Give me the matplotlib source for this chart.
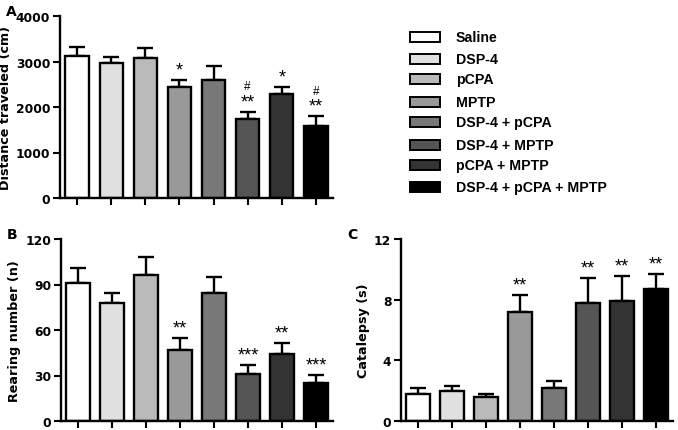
import numpy as np
import matplotlib.pyplot as plt
from matplotlib.patches import Rectangle

plt.rcParams['font.family'] = ['DejaVu Sans']
plt.rcParams['font.weight'] = 'bold'

groups = ['Saline', 'DSP-4', 'pCPA', 'MPTP', 'DSP-4 + pCPA',
          'DSP-4 + MPTP', 'pCPA + MPTP', 'DSP-4 + pCPA + MPTP']
colors = ['#ffffff', '#e0e0e0', '#bababa', '#999999', '#787878',
          '#555555', '#333333', '#000000']

distance = [3110, 2975, 3070, 2430, 2600, 1735, 2285, 1590]
distance_err = [210, 130, 220, 165, 295, 160, 160, 205]
distance_marks = ['', '', '', '*', '', '**', '*', '**']
distance_hash = ['', '', '', '', '', '#', '', '#']

rearing = [90.7, 77.5, 96.3, 46.5, 84.4, 31.0, 44.5, 24.9]
rearing_err = [10.3, 6.9, 11.7, 8.5, 10.8, 6.2, 7.0, 5.3]
rearing_marks = ['', '', '', '**', '', '***', '**', '***']

catalepsy = [1.76, 1.98, 1.56, 7.16, 2.18, 7.75, 7.89, 8.70]
catalepsy_err = [0.44, 0.31, 0.24, 1.14, 0.46, 1.68, 1.65, 0.99]
catalepsy_marks = ['', '', '', '**', '', '**', '**', '**']

W, H = 678, 431
fig = plt.figure(figsize=(W / 100, H / 100), dpi=100)
arial = ['Liberation Sans', 'DejaVu Sans']


def px_axes(left, top, right, bottom):
    return fig.add_axes([left / W, 1 - bottom / H, (right - left) / W, (bottom - top) / H])


def bar_panel(ax, vals, errs, marks, ymax, step, ylabel, letter, hashes=None):
    x = np.arange(len(vals))
    ax.bar(x, vals, width=0.68, color=colors, edgecolor='black', linewidth=1.7, zorder=2)
    ax.errorbar(x, vals, yerr=[np.zeros(len(vals)), errs], fmt='none', ecolor='black',
                elinewidth=1.7, capsize=6, capthick=1.7, zorder=1)
    for i, (xi, v, e, m) in enumerate(zip(x, vals, errs, marks)):
        if m:
            ax.annotate(m, (xi, v + e), xytext=(0, 1), textcoords='offset points',
                        ha='center', va='bottom', fontsize=13, fontweight='normal',
                        family=arial)
        if hashes and hashes[i]:
            ax.annotate(hashes[i], (xi, v + e), xytext=(0, 14), textcoords='offset points',
                        ha='center', va='bottom', fontsize=8.5, fontweight='normal',
                        family=arial)
    ax.set_xlim(-0.5, len(vals) - 0.5)
    ax.set_ylim(0, ymax)
    ax.set_yticks(np.arange(0, ymax + step / 2, step))
    ax.set_xticks(x)
    ax.set_xticklabels([])
    for s in ['top', 'right']:
        ax.spines[s].set_visible(False)
    for s in ['left', 'bottom']:
        ax.spines[s].set_linewidth(1.7)
    ax.tick_params(width=1.5, length=5, labelsize=8.8, pad=2)
    ax.set_ylabel(ylabel, fontsize=9.2, fontweight='bold', labelpad=3)
    ax.text(-0.16, 1.03, letter, transform=ax.transAxes, fontsize=10,
            fontweight='bold', ha='right', va='center')


axA = px_axes(60, 17, 333, 199)
bar_panel(axA, distance, distance_err, distance_marks, 4000, 1000,
          'Distance traveled (cm)', 'A', distance_hash)
axB = px_axes(61, 240, 333, 422)
bar_panel(axB, rearing, rearing_err, rearing_marks, 120, 30,
          'Rearing number (n)', 'B')
axC = px_axes(401, 240, 673, 422)
bar_panel(axC, catalepsy, catalepsy_err, catalepsy_marks, 12, 4,
          'Catalepsy (s)', 'C')

# legend drawn as patches + labels
row_y = [38, 60, 80, 103, 123, 146, 166, 188]
for name, c, y in zip(groups, colors, row_y):
    fig.patches.append(Rectangle((410 / W, 1 - (y + 5) / H), 30 / W, 10 / H,
                                 transform=fig.transFigure, facecolor=c,
                                 edgecolor='black', linewidth=1.4))
    fig.text(456 / W, 1 - y / H, name, fontsize=10.2, fontweight='bold', va='center',
             family=arial)

fig.savefig('out.png', dpi=100)
